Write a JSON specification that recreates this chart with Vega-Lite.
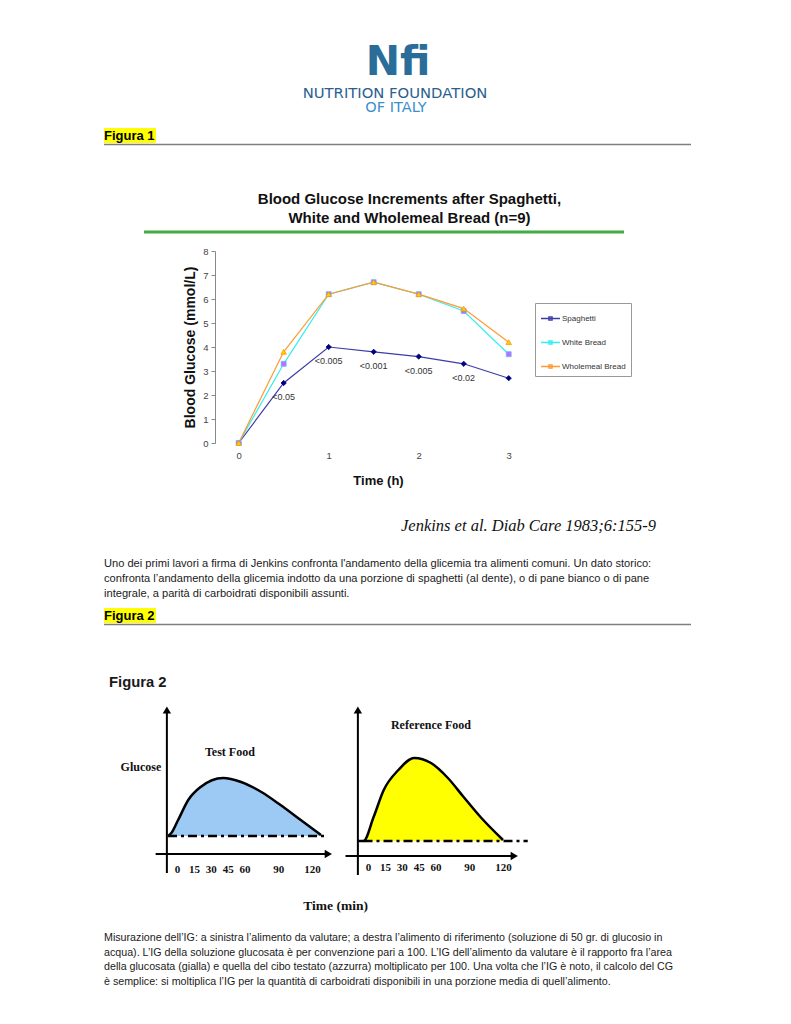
{
  "$schema": "https://vega.github.io/schema/vega-lite/v6.json",
  "background": "white",
  "padding": {"left": 103, "top": 0, "right": 0, "bottom": 0},
  "bounds": "flush",
  "spacing": 0,
  "center": true,
  "resolve": {
    "scale": {"color": "independent"},
    "legend": {"color": "independent"}
  },
  "config": {"view": {"stroke": null}, "font": "Liberation Sans"},
  "vconcat": [
    {
      "width": 587,
      "height": 251,
      "layer": [
        {
          "data": {"values": [{"name": "Nfi"}]},
          "mark": {"type": "text", "font": "DejaVu Sans", "fontWeight": "bold", "fontSize": 41, "color": "#2b6d99", "align": "center", "baseline": "alphabetic"},
          "encoding": {
            "x": {"datum": 294, "type": "quantitative", "scale": {"domain": [0, 587], "nice": false, "zero": false}, "axis": null},
            "y": {"datum": 75, "type": "quantitative", "scale": {"domain": [0, 251], "reverse": true, "nice": false, "zero": false}, "axis": null},
            "text": {"field": "name", "type": "nominal"}
          }
        },
        {
          "data": {"values": [{"name": "NUTRITION FOUNDATION"}]},
          "mark": {"type": "text", "font": "DejaVu Sans", "fontSize": 14.8, "color": "#2a5f8f", "align": "center", "baseline": "alphabetic"},
          "encoding": {
            "x": {"datum": 291, "type": "quantitative", "axis": null},
            "y": {"datum": 98, "type": "quantitative", "axis": null},
            "text": {"field": "name", "type": "nominal"}
          }
        },
        {
          "data": {"values": [{"name": "OF ITALY"}]},
          "mark": {"type": "text", "font": "DejaVu Sans", "fontSize": 14.5, "color": "#3b8fcc", "align": "center", "baseline": "alphabetic"},
          "encoding": {
            "x": {"datum": 292, "type": "quantitative", "axis": null},
            "y": {"datum": 112, "type": "quantitative", "axis": null},
            "text": {"field": "name", "type": "nominal"}
          }
        },
        {
          "data": {"values": [{"name": "Figura 1"}]},
          "mark": {"type": "rect", "fill": "#ffff00"},
          "encoding": {
            "x": {"datum": 0, "type": "quantitative", "axis": null},
            "x2": {"datum": 52},
            "y": {"datum": 128, "type": "quantitative", "axis": null},
            "y2": {"datum": 143}
          }
        },
        {
          "data": {"values": [{"name": "Figura 1"}]},
          "mark": {"type": "text", "fontWeight": "bold", "fontSize": 13, "color": "#000000", "align": "left", "baseline": "alphabetic"},
          "encoding": {
            "x": {"datum": 0, "type": "quantitative", "axis": null},
            "y": {"datum": 140, "type": "quantitative", "axis": null},
            "text": {"field": "name", "type": "nominal"}
          }
        },
        {
          "data": {"values": [{"name": "section rule"}]},
          "mark": {"type": "rule", "stroke": "#7f7f7f", "strokeWidth": 1.5},
          "encoding": {
            "x": {"datum": 0, "type": "quantitative", "axis": null},
            "x2": {"datum": 587},
            "y": {"datum": 144.5, "type": "quantitative", "axis": null}
          }
        },
        {
          "data": {"values": [{"name": "title rule"}]},
          "mark": {"type": "rule", "stroke": "#44aa44", "strokeWidth": 3},
          "encoding": {
            "x": {"datum": 40, "type": "quantitative", "axis": null},
            "x2": {"datum": 520},
            "y": {"datum": 232, "type": "quantitative", "axis": null}
          }
        }
      ]
    },
    {
      "width": 365,
      "height": 192,
      "title": {
        "text": ["Blood Glucose Increments after  Spaghetti,", "White and Wholemeal Bread (n=9)"],
        "font": "Liberation Sans",
        "fontSize": 15,
        "fontWeight": "bold",
        "color": "#111111",
        "lineHeight": 19,
        "anchor": "middle",
        "frame": "group",
        "dx": 12,
        "offset": 20
      },
      "data": {
        "values": [
          {"series": "Spaghetti", "time": 0, "glucose": 0, "p": null},
          {"series": "Spaghetti", "time": 0.5, "glucose": 2.5, "p": "<0.05"},
          {"series": "Spaghetti", "time": 1, "glucose": 4.0, "p": "<0.005"},
          {"series": "Spaghetti", "time": 1.5, "glucose": 3.8, "p": "<0.001"},
          {"series": "Spaghetti", "time": 2, "glucose": 3.6, "p": "<0.005"},
          {"series": "Spaghetti", "time": 2.5, "glucose": 3.3, "p": "<0.02"},
          {"series": "Spaghetti", "time": 3, "glucose": 2.7, "p": null},
          {"series": "White Bread", "time": 0, "glucose": 0, "p": null},
          {"series": "White Bread", "time": 0.5, "glucose": 3.3, "p": null},
          {"series": "White Bread", "time": 1, "glucose": 6.2, "p": null},
          {"series": "White Bread", "time": 1.5, "glucose": 6.7, "p": null},
          {"series": "White Bread", "time": 2, "glucose": 6.2, "p": null},
          {"series": "White Bread", "time": 2.5, "glucose": 5.5, "p": null},
          {"series": "White Bread", "time": 3, "glucose": 3.7, "p": null},
          {"series": "Wholemeal Bread", "time": 0, "glucose": 0, "p": null},
          {"series": "Wholemeal Bread", "time": 0.5, "glucose": 3.8, "p": null},
          {"series": "Wholemeal Bread", "time": 1, "glucose": 6.2, "p": null},
          {"series": "Wholemeal Bread", "time": 1.5, "glucose": 6.7, "p": null},
          {"series": "Wholemeal Bread", "time": 2, "glucose": 6.2, "p": null},
          {"series": "Wholemeal Bread", "time": 2.5, "glucose": 5.6, "p": null},
          {"series": "Wholemeal Bread", "time": 3, "glucose": 4.2, "p": null}
        ]
      },
      "encoding": {
        "x": {
          "field": "time", "type": "quantitative",
          "scale": {"domain": [-0.263, 3.792], "nice": false, "zero": false},
          "axis": {
            "values": [0, 1, 2, 3], "domain": false, "ticks": false, "grid": false,
            "labelFont": "Liberation Sans", "labelFontSize": 9.5, "labelColor": "#444444", "labelPadding": 7, "labelOverlap": false,
            "title": "Time (h)", "titleFont": "Liberation Sans", "titleFontSize": 13, "titleFontWeight": "bold", "titleColor": "#111111", "titlePadding": 15, "titleX": 163
          }
        },
        "y": {
          "field": "glucose", "type": "quantitative",
          "scale": {"domain": [0, 8], "nice": false},
          "axis": {
            "values": [0, 1, 2, 3, 4, 5, 6, 7, 8], "domain": true, "domainColor": "#888888", "ticks": true, "tickColor": "#888888", "tickSize": 4, "grid": false,
            "labelFont": "Liberation Sans", "labelFontSize": 9.5, "labelColor": "#444444", "labelPadding": 3,
            "title": "Blood Glucose (mmol/L)", "titleFont": "Liberation Sans", "titleFontSize": 14, "titleFontWeight": "bold", "titleColor": "#111111", "titlePadding": 5
          }
        }
      },
      "layer": [
        {
          "mark": {"type": "line", "strokeWidth": 1.2},
          "encoding": {
            "color": {
              "field": "series", "type": "nominal",
              "scale": {"domain": ["Spaghetti", "White Bread", "Wholemeal Bread"], "range": ["#3c3ca8", "#33eef0", "#ff9933"]},
              "legend": {
                "title": null, "orient": "none", "legendX": 320, "legendY": 52,
                "symbolType": "M-1,0H1M-0.17,-0.17H0.17V0.17H-0.17Z", "symbolSize": 361, "symbolStrokeWidth": 1.3,
                "labelFont": "Liberation Sans", "labelFontSize": 8, "labelColor": "#333333", "labelOffset": 1,
                "padding": 5, "rowPadding": 9, "strokeColor": "#999999", "fillColor": "white"
              }
            }
          }
        },
        {
          "transform": [{"filter": "datum.series == 'Spaghetti'"}],
          "mark": {"type": "point", "shape": "diamond", "filled": true, "size": 28, "fill": "#000080", "stroke": "#000080", "strokeWidth": 0.8, "opacity": 1}
        },
        {
          "transform": [{"filter": "datum.series == 'White Bread'"}],
          "mark": {"type": "point", "shape": "square", "filled": true, "size": 24, "fill": "#cc66ff", "stroke": "#55bbff", "strokeWidth": 0.8, "opacity": 1}
        },
        {
          "transform": [{"filter": "datum.series == 'Wholemeal Bread'"}],
          "mark": {"type": "point", "shape": "triangle-up", "filled": true, "size": 30, "fill": "#ffcc00", "stroke": "#ff9900", "strokeWidth": 0.8, "opacity": 1}
        },
        {
          "transform": [{"filter": "datum.p != null"}],
          "mark": {"type": "text", "font": "Liberation Sans", "fontSize": 9, "color": "#333333", "dy": 14, "align": "center", "baseline": "middle"},
          "encoding": {
            "text": {"field": "p", "type": "nominal"}
          }
        }
      ]
    },
    {
      "width": 587,
      "height": 262,
      "layer": [
        {
          "data": {"values": [{"ref": "Jenkins et al. Diab Care 1983;6:155-9"}]},
          "mark": {"type": "text", "font": "Liberation Serif", "fontStyle": "italic", "fontSize": 16.5, "color": "#111111", "align": "left", "baseline": "alphabetic"},
          "encoding": {
            "x": {"datum": 297, "type": "quantitative", "scale": {"domain": [0, 587], "nice": false, "zero": false}, "axis": null},
            "y": {"datum": 530.5, "type": "quantitative", "scale": {"domain": [443, 705], "reverse": true, "nice": false, "zero": false}, "axis": null},
            "text": {"field": "ref", "type": "nominal"}
          }
        },
        {
          "data": {"values": [{"lines": [
            "Uno dei primi lavori a firma di Jenkins confronta l'andamento della glicemia tra alimenti comuni. Un dato storico:",
            "confronta l’andamento della glicemia indotto da una porzione di spaghetti (al dente), o di pane bianco o di pane",
            "integrale, a parità di carboidrati disponibili assunti."
          ]}]},
          "mark": {"type": "text", "font": "Liberation Sans Narrow, Liberation Sans", "fontSize": 11.1, "lineHeight": 15, "color": "#1a1a1a", "align": "left", "baseline": "alphabetic"},
          "encoding": {
            "x": {"datum": 0, "type": "quantitative", "axis": null},
            "y": {"datum": 567, "type": "quantitative", "axis": null},
            "text": {"field": "lines", "type": "nominal"}
          }
        },
        {
          "data": {"values": [{"name": "Figura 2"}]},
          "mark": {"type": "rect", "fill": "#ffff00"},
          "encoding": {
            "x": {"datum": 0, "type": "quantitative", "axis": null},
            "x2": {"datum": 52},
            "y": {"datum": 608, "type": "quantitative", "axis": null},
            "y2": {"datum": 623}
          }
        },
        {
          "data": {"values": [{"name": "Figura 2"}]},
          "mark": {"type": "text", "fontWeight": "bold", "fontSize": 13, "color": "#000000", "align": "left", "baseline": "alphabetic"},
          "encoding": {
            "x": {"datum": 0, "type": "quantitative", "axis": null},
            "y": {"datum": 620, "type": "quantitative", "axis": null},
            "text": {"field": "name", "type": "nominal"}
          }
        },
        {
          "data": {"values": [{"name": "section rule"}]},
          "mark": {"type": "rule", "stroke": "#7f7f7f", "strokeWidth": 1.5},
          "encoding": {
            "x": {"datum": 0, "type": "quantitative", "axis": null},
            "x2": {"datum": 587},
            "y": {"datum": 624.5, "type": "quantitative", "axis": null}
          }
        },
        {
          "data": {"values": [{"name": "Figura 2"}]},
          "mark": {"type": "text", "fontWeight": "bold", "fontSize": 14.8, "color": "#1a1a1a", "align": "left", "baseline": "alphabetic"},
          "encoding": {
            "x": {"datum": 5, "type": "quantitative", "axis": null},
            "y": {"datum": 687, "type": "quantitative", "axis": null},
            "text": {"field": "name", "type": "nominal"}
          }
        }
      ]
    },
    {
      "width": 587,
      "height": 155,
      "resolve": {"scale": {"x": "independent"}},
      "layer": [
        {
          "layer": [
            {
              "data": {"values": [
                {"minute": -8, "level": 18}, {"minute": -5, "level": 21}, {"minute": 1, "level": 34},
                {"minute": 10, "level": 54}, {"minute": 21, "level": 67}, {"minute": 41, "level": 76},
                {"minute": 57, "level": 72}, {"minute": 75, "level": 62}, {"minute": 92, "level": 49},
                {"minute": 110, "level": 34}, {"minute": 128, "level": 19}
              ]},
              "layer": [
                {
                  "mark": {"type": "area", "fill": "#9dc9f5", "interpolate": "monotone"},
                  "encoding": {
                    "x": {
                      "field": "minute", "type": "quantitative",
                      "scale": {"domain": [-64.889, 456.889], "nice": false, "zero": false},
                      "axis": {"orient": "bottom", "values": [0, 15, 30, 45, 60, 90, 120], "domain": false, "ticks": false, "grid": false, "labelOverlap": false,
                        "labelFont": "Liberation Serif", "labelFontWeight": "bold", "labelFontSize": 11, "labelColor": "#111111", "labelPadding": 3, "title": null}
                    },
                    "y": {"field": "level", "type": "quantitative", "scale": {"domain": [-6, 149], "nice": false, "zero": false}, "axis": null},
                    "y2": {"datum": 18}
                  }
                },
                {
                  "mark": {"type": "line", "stroke": "#000000", "strokeWidth": 2.5, "interpolate": "monotone"},
                  "encoding": {
                    "x": {"field": "minute", "type": "quantitative"},
                    "y": {"field": "level", "type": "quantitative", "axis": null}
                  }
                }
              ]
            },
            {
              "data": {"values": [{"k": "fasting level"}]},
              "mark": {"type": "rule", "stroke": "#000000", "strokeWidth": 2.5, "strokeDash": [9, 4, 3, 4]},
              "encoding": {"x": {"datum": -8, "type": "quantitative"}, "x2": {"datum": 131}, "y": {"datum": 18, "type": "quantitative", "axis": null}}
            },
            {
              "data": {"values": [{"k": "y axis"}]},
              "mark": {"type": "rule", "stroke": "#000000", "strokeWidth": 2},
              "encoding": {"x": {"datum": -9, "type": "quantitative"}, "y": {"datum": -19, "type": "quantitative", "axis": null}, "y2": {"datum": 144}}
            },
            {
              "data": {"values": [{"k": "x axis"}]},
              "mark": {"type": "rule", "stroke": "#000000", "strokeWidth": 2},
              "encoding": {"x": {"datum": -19, "type": "quantitative"}, "x2": {"datum": 133}, "y": {"datum": 0, "type": "quantitative", "axis": null}}
            },
            {
              "data": {"values": [{"k": "y arrow"}]},
              "mark": {"type": "point", "shape": "triangle-up", "filled": true, "color": "#000000", "size": 70, "opacity": 1},
              "encoding": {"x": {"datum": -9, "type": "quantitative"}, "y": {"datum": 144, "type": "quantitative", "axis": null}}
            },
            {
              "data": {"values": [{"k": "x arrow"}]},
              "mark": {"type": "point", "shape": "triangle-right", "filled": true, "color": "#000000", "size": 70, "opacity": 1},
              "encoding": {"x": {"datum": 134.5, "type": "quantitative"}, "y": {"datum": 0, "type": "quantitative", "axis": null}}
            },
            {
              "data": {"values": [{"label": "Test Food"}]},
              "mark": {"type": "text", "font": "Liberation Serif", "fontWeight": "bold", "fontSize": 12, "color": "#111111", "align": "center", "baseline": "middle"},
              "encoding": {"x": {"datum": 47, "type": "quantitative"}, "y": {"datum": 102, "type": "quantitative", "axis": null}, "text": {"field": "label", "type": "nominal"}}
            },
            {
              "data": {"values": [{"label": "Glucose"}]},
              "mark": {"type": "text", "font": "Liberation Serif", "fontWeight": "bold", "fontSize": 12, "color": "#111111", "align": "right", "baseline": "middle"},
              "encoding": {"x": {"datum": -14, "type": "quantitative"}, "y": {"datum": 87, "type": "quantitative", "axis": null}, "text": {"field": "label", "type": "nominal"}}
            },
            {
              "data": {"values": [{"label": "Time (min)"}]},
              "mark": {"type": "text", "font": "Liberation Serif", "fontWeight": "bold", "fontSize": 13.5, "color": "#111111", "align": "center", "baseline": "middle"},
              "encoding": {"x": {"datum": 141, "type": "quantitative"}, "y": {"datum": -52, "type": "quantitative", "axis": null}, "text": {"field": "label", "type": "nominal"}}
            }
          ]
        },
        {
          "layer": [
            {
              "data": {"values": [
                {"minute": -9, "level": 13}, {"minute": -4, "level": 13}, {"minute": 5, "level": 37},
                {"minute": 14, "level": 64}, {"minute": 27, "level": 84}, {"minute": 41, "level": 96},
                {"minute": 56, "level": 91}, {"minute": 71, "level": 76}, {"minute": 85, "level": 57},
                {"minute": 100, "level": 37}, {"minute": 120, "level": 14}
              ]},
              "layer": [
                {
                  "mark": {"type": "area", "fill": "#ffff00", "interpolate": "monotone"},
                  "encoding": {
                    "x": {
                      "field": "minute", "type": "quantitative",
                      "scale": {"domain": [-234.667, 287.111], "nice": false, "zero": false},
                      "axis": {"orient": "bottom", "values": [0, 15, 30, 45, 60, 90, 120], "domain": false, "ticks": false, "grid": false, "labelOverlap": false,
                        "labelFont": "Liberation Serif", "labelFontWeight": "bold", "labelFontSize": 11, "labelColor": "#111111", "labelPadding": 1, "title": null}
                    },
                    "y": {"field": "level", "type": "quantitative", "axis": null},
                    "y2": {"datum": 13}
                  }
                },
                {
                  "mark": {"type": "line", "stroke": "#000000", "strokeWidth": 2.5, "interpolate": "monotone"},
                  "encoding": {
                    "x": {"field": "minute", "type": "quantitative"},
                    "y": {"field": "level", "type": "quantitative", "axis": null}
                  }
                }
              ]
            },
            {
              "data": {"values": [{"k": "fasting level"}]},
              "mark": {"type": "rule", "stroke": "#000000", "strokeWidth": 2.5, "strokeDash": [9, 4, 3, 4]},
              "encoding": {"x": {"datum": -4, "type": "quantitative"}, "x2": {"datum": 142}, "y": {"datum": 13, "type": "quantitative", "axis": null}}
            },
            {
              "data": {"values": [{"k": "y axis"}]},
              "mark": {"type": "rule", "stroke": "#000000", "strokeWidth": 2},
              "encoding": {"x": {"datum": -9, "type": "quantitative"}, "y": {"datum": -21, "type": "quantitative", "axis": null}, "y2": {"datum": 144}}
            },
            {
              "data": {"values": [{"k": "x axis"}]},
              "mark": {"type": "rule", "stroke": "#000000", "strokeWidth": 2},
              "encoding": {"x": {"datum": -20, "type": "quantitative"}, "x2": {"datum": 128}, "y": {"datum": -2, "type": "quantitative", "axis": null}}
            },
            {
              "data": {"values": [{"k": "y arrow"}]},
              "mark": {"type": "point", "shape": "triangle-up", "filled": true, "color": "#000000", "size": 70, "opacity": 1},
              "encoding": {"x": {"datum": -9, "type": "quantitative"}, "y": {"datum": 144, "type": "quantitative", "axis": null}}
            },
            {
              "data": {"values": [{"k": "x arrow"}]},
              "mark": {"type": "point", "shape": "triangle-right", "filled": true, "color": "#000000", "size": 70, "opacity": 1},
              "encoding": {"x": {"datum": 130, "type": "quantitative"}, "y": {"datum": -2, "type": "quantitative", "axis": null}}
            },
            {
              "data": {"values": [{"label": "Reference Food"}]},
              "mark": {"type": "text", "font": "Liberation Serif", "fontWeight": "bold", "fontSize": 12, "color": "#111111", "align": "center", "baseline": "middle"},
              "encoding": {"x": {"datum": 56, "type": "quantitative"}, "y": {"datum": 129, "type": "quantitative", "axis": null}, "text": {"field": "label", "type": "nominal"}}
            }
          ]
        }
      ]
    },
    {
      "width": 587,
      "height": 164,
      "layer": [
        {
          "data": {"values": [{"lines": [
            "Misurazione dell’IG: a sinistra l’alimento da valutare; a destra l’alimento di riferimento (soluzione di 50 gr. di glucosio in",
            "acqua). L’IG della soluzione glucosata è per convenzione pari a 100. L’IG dell’alimento da valutare è il rapporto fra l’area",
            "della glucosata (gialla) e quella del cibo testato (azzurra) moltiplicato per 100. Una volta che l’IG è noto, il calcolo del CG",
            "è semplice: si moltiplica l’IG per la quantità di carboidrati disponibili in una porzione media di quell’alimento."
          ]}]},
          "mark": {"type": "text", "font": "Liberation Sans Narrow, Liberation Sans", "fontSize": 10.7, "lineHeight": 14.7, "color": "#1a1a1a", "align": "left", "baseline": "alphabetic"},
          "encoding": {
            "x": {"datum": 0, "type": "quantitative", "scale": {"domain": [0, 587], "nice": false, "zero": false}, "axis": null},
            "y": {"datum": 941, "type": "quantitative", "scale": {"domain": [860, 1024], "reverse": true, "nice": false, "zero": false}, "axis": null},
            "text": {"field": "lines", "type": "nominal"}
          }
        }
      ]
    }
  ]
}
